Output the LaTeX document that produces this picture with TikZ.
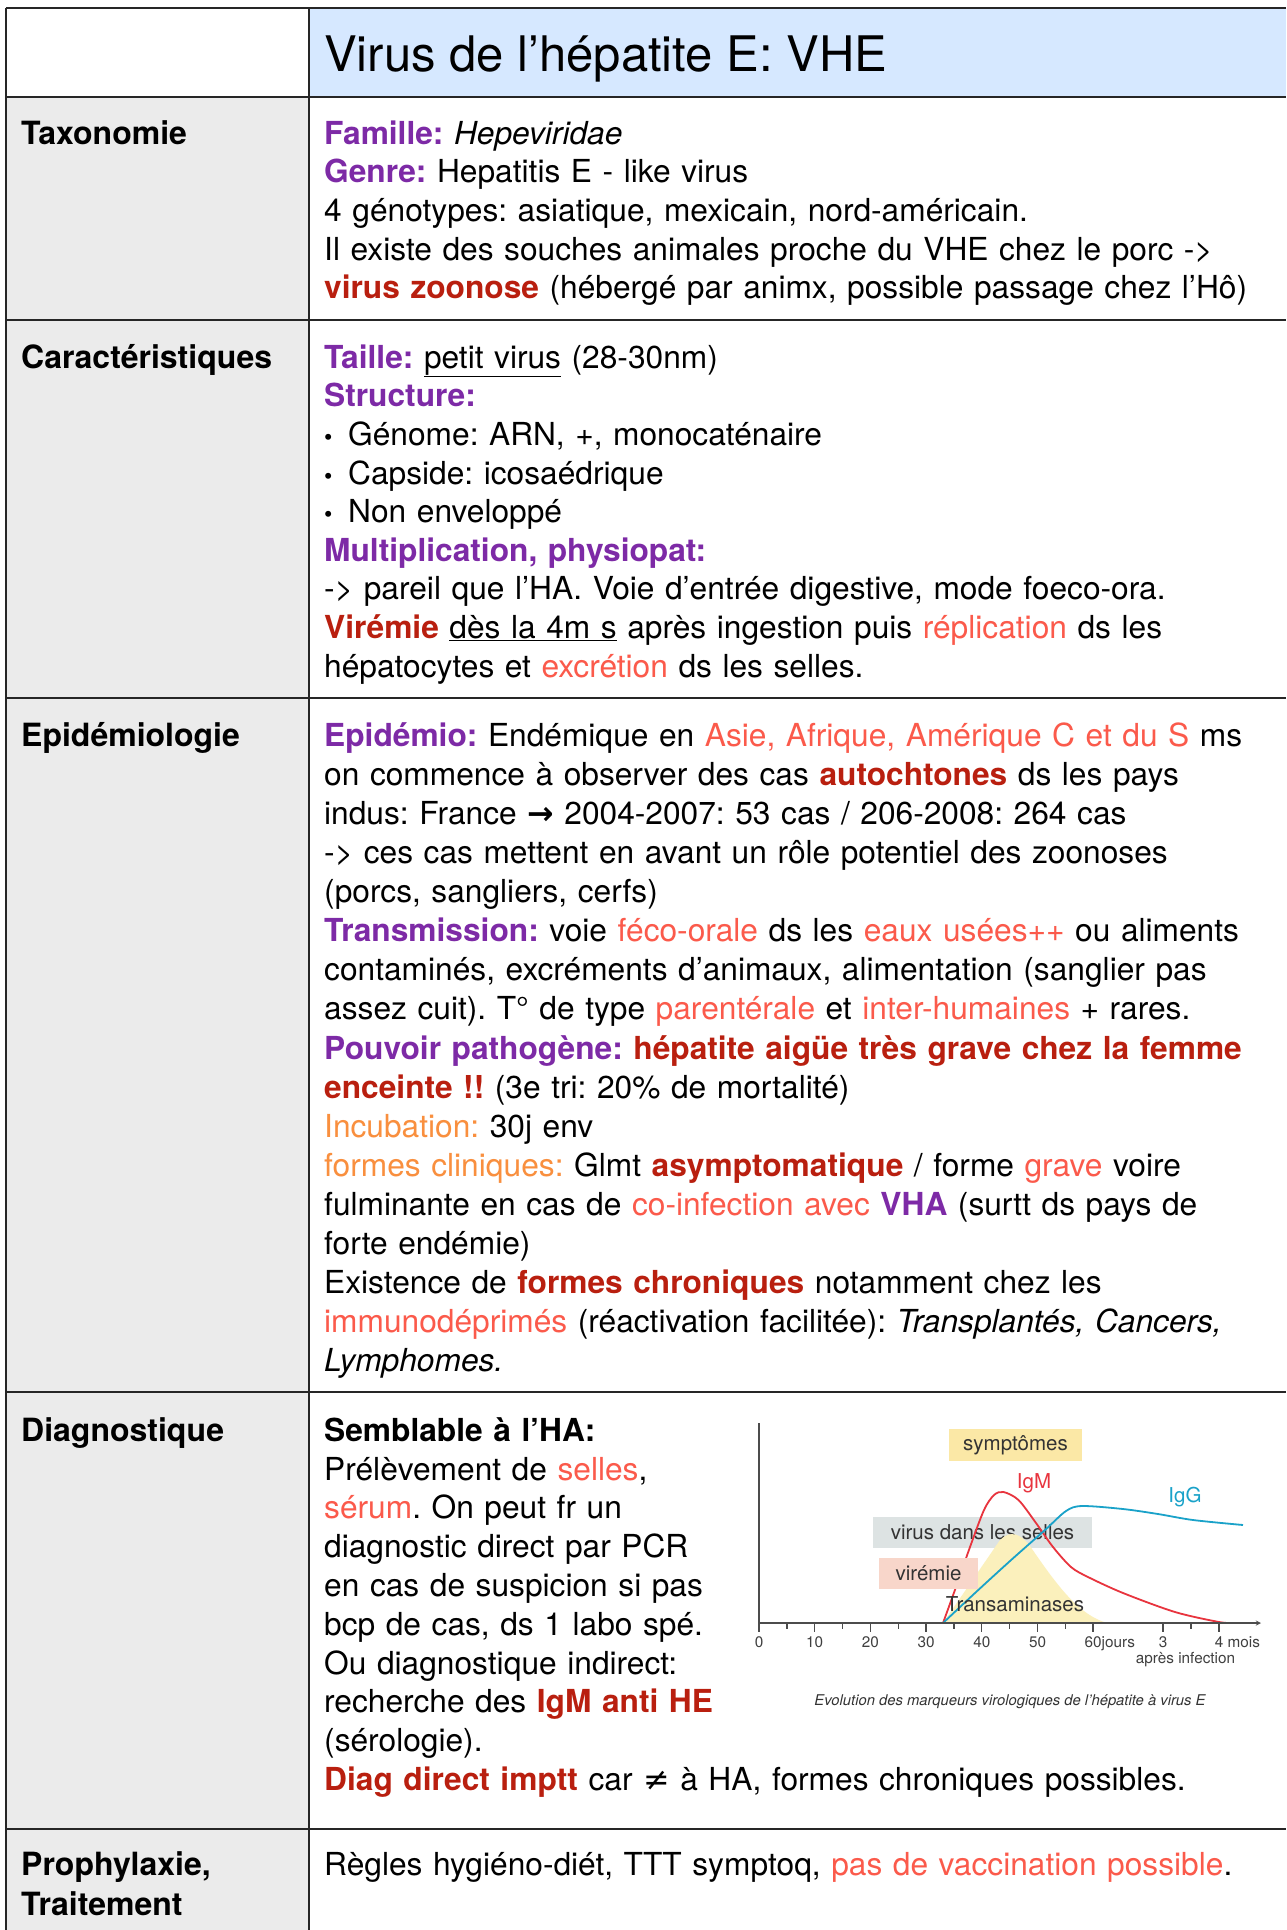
\documentclass[tikz,border=0pt]{standalone}
\usepackage{fontspec}
\setmainfont{TeX Gyre Heros}
\newfontfamily\symb{DejaVu Sans}
\frenchspacing

\definecolor{violetfonce}{HTML}{7D2AA6}
\definecolor{rougefonce}{HTML}{B91F0F}
\definecolor{corail}{HTML}{FB5A4B}
\definecolor{orangeclair}{HTML}{F98F3E}
\definecolor{bleuentete}{HTML}{D6E8FF}
\definecolor{grisgauche}{HTML}{EBEBEB}
\definecolor{jaunesympt}{HTML}{FBE8A6}
\definecolor{grisboite}{HTML}{DDE3E3}
\definecolor{rosevir}{HTML}{F8D6CA}
\definecolor{jaunetrans}{HTML}{FBF0BC}
\definecolor{rougeigm}{HTML}{E8343E}
\definecolor{bleuigg}{HTML}{1AA2C9}

\newcommand{\viol}[1]{{\bfseries\color{violetfonce}#1}}
\newcommand{\rougef}[1]{{\bfseries\color{rougefonce}#1}}
\newcommand{\corail}[1]{{\color{corail}#1}}
\newcommand{\orng}[1]{{\color{orangeclair}#1}}
\newcommand{\puce}{\makebox[24pt][l]{\scalebox{0.75}{•}}}
\newcommand{\haut}{\rule{0pt}{30pt}}

\begin{document}
\begin{tikzpicture}[
    x=1pt,y=-1pt,
    trait/.style={line width=2.8pt,draw=black!85},
    etiquette/.style={anchor=north west,inner sep=0pt,text width=280pt,align=left,font=\bfseries\fontsize{32}{39}\selectfont},
    contenu/.style={anchor=north west,inner sep=0pt,text width=955pt,align=left,font=\fontsize{31.7}{38.6}\selectfont},
    axe/.style={line width=1.3pt,draw=black!70},
    courbe/.style={line width=1.8pt},
    boite/.style={inner sep=0pt,text=black!80,font=\fontsize{20.5}{24}\selectfont},
    graduation/.style={anchor=base,inner sep=0pt,text=black!75,font=\fontsize{15.3}{18}\selectfont},
    >=stealth
  ]
  \fill[white] (0,0) rectangle (1286,1930);
  \useasboundingbox (0,0) rectangle (1286,1930);

  % Backgrounds
  \fill[grisgauche] (6,97) rectangle (309,1930);
  \fill[bleuentete] (309,8) rectangle (1286,97);

  % Header
  \node[anchor=base west,inner sep=0pt,font=\fontsize{49}{58}\selectfont] (titre) at (324,71) {Virus de l’hépatite E: VHE};

  % Row: Taxonomie
  \node[etiquette] (taxo) at (21,114) {\haut Taxonomie};
  \node[contenu] (taxotexte) at (324,114) {\haut\viol{Famille:} \textit{Hepeviridae}\\
    \viol{Genre:} Hepatitis E - like virus\\
    4 génotypes: asiatique, mexicain, nord-américain.\\
    Il existe des souches animales proche du VHE chez le porc ->\\
    \rougef{virus zoonose} (hébergé par animx, possible passage chez l’Hô)};

  % Row: Caracteristiques
  \node[etiquette] (carac) at (21,338) {\haut Caractéristiques};
  \node[contenu] (caractexte) at (324,338) {\haut\viol{Taille:} \underline{petit virus} (28-30nm)\\
    \viol{Structure:}\\
    \puce Génome: ARN, +, monocaténaire\\
    \puce Capside: icosaédrique\\
    \puce Non enveloppé\\
    \viol{Multiplication, physiopat:}\\
    -> pareil que l’HA. Voie d’entrée digestive, mode foeco-ora.\\
    \rougef{Virémie} \underline{dès la 4m s} après ingestion puis \corail{réplication} ds les\\
    hépatocytes et \corail{excrétion} ds les selles.};

  % Row: Epidemiologie
  \node[etiquette] (epi) at (21,716) {\haut Epidémiologie};
  \node[contenu,font=\fontsize{31.7}{39.1}\selectfont] (epitexte) at (324,716) {\haut\viol{Epidémio:} Endémique en \corail{Asie, Afrique, Amérique C et du S} ms\\
    on commence à observer des cas \rougef{autochtones} ds les pays\\
    indus: France {\symb\bfseries →} 2004-2007: 53 cas / 206-2008: 264 cas\\
    -> ces cas mettent en avant un rôle potentiel des zoonoses\\
    (porcs, sangliers, cerfs)\\
    \viol{Transmission:} voie \corail{féco-orale} ds les \corail{eaux usées++} ou aliments\\
    contaminés, excréments d’animaux, alimentation (sanglier pas\\
    assez cuit). T° de type \corail{parentérale} et \corail{inter-humaines} + rares.\\
    \viol{Pouvoir pathogène:} \rougef{hépatite aigüe très grave chez la femme}\\
    \rougef{enceinte !!} (3e tri: 20\% de mortalité)\\
    \orng{Incubation:} 30j env\\
    \orng{formes cliniques:} Glmt \rougef{asymptomatique} / forme \corail{grave} voire\\
    fulminante en cas de \corail{co-infection avec} \viol{VHA} (surtt ds pays de\\
    forte endémie)\\
    Existence de \rougef{formes chroniques} notamment chez les\\
    \corail{immunodéprimés} (réactivation facilitée): \textit{Transplantés, Cancers,}\\
    \textit{Lymphomes.}};

  % Row: Diagnostique
  \node[etiquette] (diag) at (21,1411) {\haut Diagnostique};
  \node[contenu,font=\fontsize{31.7}{38.8}\selectfont] (diagtexte) at (324,1411) {\haut\textbf{Semblable à l’HA:}\\
    Prélèvement de \corail{selles},\\
    \corail{sérum}. On peut fr un\\
    diagnostic direct par PCR\\
    en cas de suspicion si pas\\
    bcp de cas, ds 1 labo spé.\\
    Ou diagnostique indirect:\\
    recherche des \rougef{IgM anti HE}\\
    (sérologie).\\
    \rougef{Diag direct imptt} car {\symb ≠} à HA, formes chroniques possibles.};

  % Graph: marqueurs virologiques
  \node[boite,fill=jaunesympt,minimum width=133pt,minimum height=32pt] (sympt) at (1015.5,1445) {symptômes};
  \node[boite,fill=grisboite,minimum width=219pt,minimum height=31pt] (selles) at (982.5,1532.5) {virus dans les selles};
  \fill[jaunetrans] (943,1623) -- (1000,1540) .. controls (1010,1530) and (1020,1533) .. (1030,1546)
    .. controls (1060,1590) and (1080,1615) .. (1107,1623) -- cycle;
  \draw[courbe,rougeigm] plot[smooth] coordinates {(943,1623) (956,1587) (970,1547) (984,1510) (994,1495) (1003.5,1492)
    (1018.5,1500) (1036,1523) (1053,1547) (1071,1567) (1088,1577) (1123,1593) (1175,1612) (1219,1622) (1234,1623)};
  \draw[courbe,bleuigg] plot[smooth] coordinates {(943,1623) (975,1593) (1010,1561) (1045,1530) (1066,1511) (1082,1506)
    (1123,1509) (1158,1514) (1193,1520) (1243,1525)};
  \node[boite,fill=rosevir,minimum width=99pt,minimum height=31pt] (viremie) at (928.5,1573.5) {virémie};
  \node[boite] (transa) at (1015,1604) {Transaminases};
  \node[boite,text=rougeigm] (igm) at (1034,1483) {IgM};
  \node[boite,text=bleuigg] (igg) at (1185,1497) {IgG};

  % Axes
  \draw[axe] (759,1423) -- (759,1623);
  \draw[axe,->] (759,1623) -- (1261,1623);
  \foreach \k/\lab in {0/0,1/10,2/20,3/30,4/40,5/50} {
    \draw[axe] ({759+55.7*\k},1623) -- ++(0,9);
    \draw[axe] ({759+55.7*(\k+0.5)},1623) -- ++(0,6);
    \node[graduation] (grad\lab) at ({759+55.7*\k},1647) {\lab};
  }
  \draw[axe] (1093,1623) -- ++(0,9);
  \draw[axe] (1163,1623) -- ++(0,9);
  \draw[axe] (1191,1623) -- ++(0,6);
  \draw[axe] (1219,1623) -- ++(0,9);
  \node[graduation,anchor=base west] (grad60) at (1084.5,1647) {60jours};
  \node[graduation] (grad3) at (1163,1647) {3};
  \node[graduation,anchor=base west] (grad4) at (1214.7,1647) {4 mois};
  \node[graduation] (apres) at (1185.5,1663) {après infection};
  \node[anchor=base,inner sep=0pt,text=black!80,font=\itshape\fontsize{14.8}{18}\selectfont] (legende) at (1010,1705)
    {Evolution des marqueurs virologiques de l’hépatite à virus E};

  % Row: Prophylaxie
  \node[etiquette,font=\bfseries\fontsize{32}{40}\selectfont] (proph) at (21,1845) {\haut Prophylaxie,\\Traitement};
  \node[contenu] (prophtexte) at (324,1845) {\haut Règles hygiéno-diét, TTT symptoq, \corail{pas de vaccination possible}.};

  % Grid
  \draw[trait] (6,8) -- (1286,8);
  \draw[trait] (6,8) -- (6,1930);
  \draw[trait] (309,8) -- (309,1930);
  \foreach \y in {97,320,698,1392,1829}
    \draw[trait] (6,\y) -- (1286,\y);
\end{tikzpicture}
\end{document}
